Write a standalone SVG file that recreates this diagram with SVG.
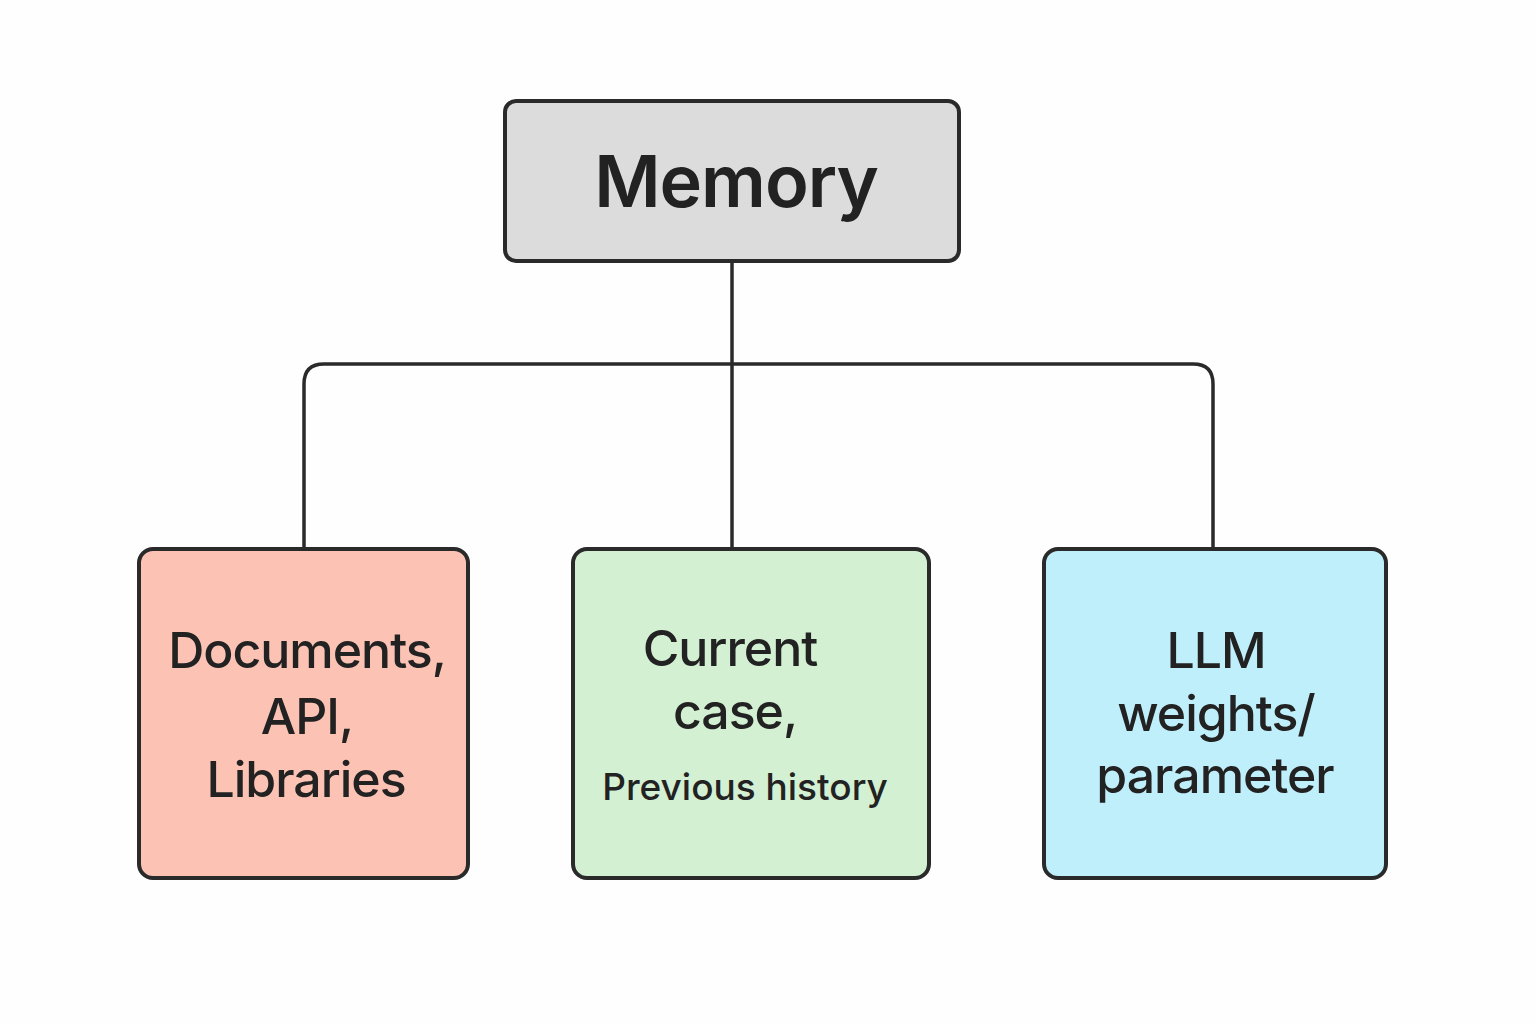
<svg xmlns="http://www.w3.org/2000/svg" width="1536" height="1024" viewBox="0 0 1536 1024">
<style>
.box{stroke:#2a2a2a;stroke-width:4}
.conn{fill:none;stroke:#2a2a2a;stroke-width:3.5}
text{font-family:Inter,"Noto Sans","Liberation Sans",sans-serif;fill:#222;text-anchor:middle}
.big{font-size:50px;font-weight:500;letter-spacing:-1px}
.small{font-size:37px;font-weight:500}
</style>
<rect width="1536" height="1024" fill="#fefefe"/>
<g id="connectors">
<path class="conn" d="M732 261 V549"/>
<path class="conn" d="M304 549 V384 Q304 364 324 364 H1193 Q1213 364 1213 384 V549"/>
</g>
<g id="memory">
<rect class="box" x="505" y="101" width="454" height="160" rx="11" fill="#dcdcdc"/>
<text x="736" y="207" style="font-size:72px;font-weight:600;letter-spacing:-1px">Memory</text>
</g>
<g id="documents">
<rect class="box" x="139" y="549" width="329" height="329" rx="14" fill="#fcc3b5"/>
<text class="big" x="307" y="668">Documents,</text>
<text class="big" x="307" y="734">API,</text>
<text class="big" x="306" y="797">Libraries</text>
</g>
<g id="current">
<rect class="box" x="573" y="549" width="356" height="329" rx="14" fill="#d3f0d3"/>
<text class="big" x="730" y="666">Current</text>
<text class="big" x="735" y="729">case,</text>
<text class="small" x="745" y="800">Previous history</text>
</g>
<g id="llm">
<rect class="box" x="1044" y="549" width="342" height="329" rx="14" fill="#c0effc"/>
<text class="big" x="1216" y="668">LLM</text>
<text class="big" x="1216" y="731">weights/</text>
<text class="big" x="1215" y="793">parameter</text>
</g>
</svg>
